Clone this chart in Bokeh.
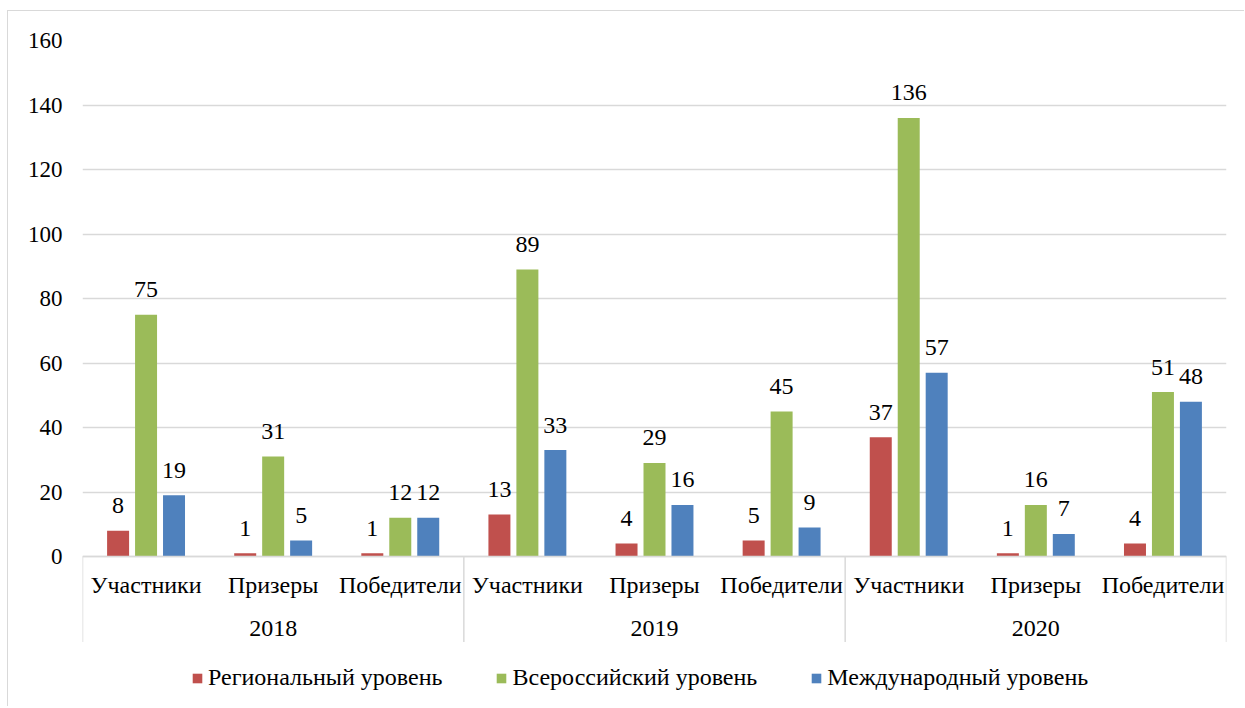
from bokeh.plotting import figure
from bokeh.models import FactorRange, ColumnDataSource, Legend, LegendItem, FixedTicker, Range1d
from bokeh.transform import dodge
from bokeh.embed import file_html
from bokeh.resources import INLINE
from bokeh.core.properties import value

years = ["2018", "2019", "2020"]
categories = ["Участники", "Призеры", "Победители"]
regional = [8, 1, 1, 13, 4, 5, 37, 1, 4]
all_russia = [75, 31, 12, 89, 29, 45, 136, 16, 51]
international = [19, 5, 12, 33, 16, 9, 57, 7, 48]
series_names = ["Региональный уровень", "Всероссийский уровень", "Международный уровень"]
series_colors = ["#C0504D", "#9BBB59", "#4F81BD"]
y_ticks = [0, 20, 40, 60, 80, 100, 120, 140, 160]

FONT = "Liberation Serif"
FS = "24px"
GRID = "#d9d9d9"

factors = [(y, c) for y in years for c in categories]
src = ColumnDataSource(dict(
    x=factors,
    regional=regional, all_russia=all_russia, international=international,
    regional_t=[str(v) for v in regional],
    all_russia_t=[str(v) for v in all_russia],
    international_t=[str(v) for v in international],
))

p = figure(
    x_range=FactorRange(*factors, group_padding=0, factor_padding=0, range_padding=0),
    y_range=Range1d(-44.65, 160),
    width=1237, height=696,
    output_backend="svg", toolbar_location=None,
    min_border_left=74, min_border_right=19, min_border_top=29, min_border_bottom=7,
)
p.margin = (10, 0, 0, 7)
p.styles = {"border-top": "1px solid #d9d9d9", "border-left": "1px solid #d9d9d9"}
p.outline_line_color = None
p.xgrid.grid_line_color = None
p.ygrid.grid_line_color = GRID
p.ygrid.grid_line_width = 1.5
p.ygrid.ticker = FixedTicker(ticks=y_ticks)

p.yaxis.ticker = FixedTicker(ticks=y_ticks)
p.yaxis.axis_line_color = None
p.yaxis.major_tick_line_color = None
p.yaxis.minor_tick_line_color = None
p.yaxis.major_label_standoff = 14
p.yaxis.major_label_text_font = FONT
p.yaxis.major_label_text_font_size = "23px"
p.yaxis.major_label_text_color = "#000000"

xa = p.xaxis[0]
xa.fixed_location = 0
xa.axis_line_color = GRID
xa.axis_line_width = 1.5
xa.major_tick_line_color = None
xa.major_label_text_font = FONT
xa.major_label_text_font_size = FS
xa.major_label_text_color = "#000000"
xa.major_label_standoff = 9
xa.group_text_color = None
xa.separator_line_color = None

# year labels, centred under the middle category of each group
year_src = ColumnDataSource(dict(x=[(y, categories[1]) for y in years], y=[-22.33] * 3, t=years))
p.text(x="x", y="y", text="t", source=year_src, text_align="center", text_baseline="middle",
       text_font=value(FONT), text_font_size=FS, text_color="#000000")

# group separators below the axis (boundaries of the year groups)
sep_start = ColumnDataSource(dict(x=[(y, categories[0]) for y in years], y0=[0] * 3, y1=[-26.5] * 3))
sep_end = ColumnDataSource(dict(x=[(years[-1], categories[-1])], y0=[0], y1=[-26.5]))
p.segment(x0=dodge("x", -0.5, range=p.x_range), x1=dodge("x", -0.5, range=p.x_range),
          y0="y0", y1="y1", source=sep_start, line_color=GRID, line_width=1.5)
p.segment(x0=dodge("x", 0.5, range=p.x_range), x1=dodge("x", 0.5, range=p.x_range),
          y0="y0", y1="y1", source=sep_end, line_color=GRID, line_width=1.5)

offsets = [-0.22, 0.0, 0.22]
fields = ["regional", "all_russia", "international"]
items = []
for f, off, col, name in zip(fields, offsets, series_colors, series_names):
    r = p.vbar(x=dodge("x", off, range=p.x_range), top=f, width=0.173, source=src,
               fill_color=col, line_color=None)
    p.text(x=dodge("x", off, range=p.x_range), y=f, text=f + "_t", source=src,
           text_align="center", text_baseline="alphabetic", y_offset=-25,
           text_font=value(FONT), text_font_size=FS, text_color="#000000")
    items.append(LegendItem(label=name, renderers=[r]))

legend = Legend(items=items, orientation="horizontal", location=(109, 9),
                label_text_font=FONT, label_text_font_size=FS, label_text_color="#000000",
                glyph_width=12, glyph_height=12, label_standoff=5, spacing=53,
                padding=0, margin=0, border_line_color=None, background_fill_alpha=0)
p.add_layout(legend, "center")

open("out.html", "w").write(file_html(p, INLINE))
